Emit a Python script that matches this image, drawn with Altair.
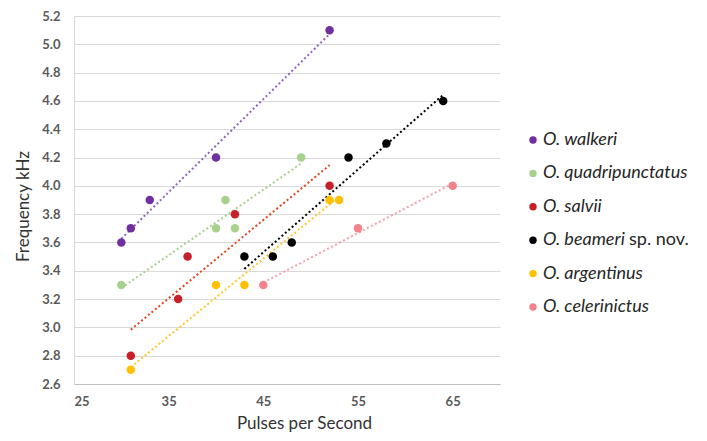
import altair as alt
import pandas as pd

species = ["O. walkeri", "O. quadripunctatus", "O. salvii",
           "O. beameri", "O. argentinus", "O. celerinictus"]
legend_suffix = ["", "", "", "sp. nov.", "", ""]
marker_colors = ["#7030A0", "#A9D18E", "#C8202A", "#000000", "#FFC000", "#F4828C"]
line_colors = ["#9563C4", "#A9D18E", "#E4431E", "#000000", "#FFC82E", "#F4A0A8"]

walkeri_x = [30, 31, 33, 40, 52]
walkeri_y = [3.6, 3.7, 3.9, 4.2, 5.1]
quadri_x = [30, 40, 41, 42, 49]
quadri_y = [3.3, 3.7, 3.9, 3.7, 4.2]
salvii_x = [31, 36, 37, 42, 52]
salvii_y = [2.8, 3.2, 3.5, 3.8, 4.0]
beameri_x = [43, 46, 48, 54, 58, 64]
beameri_y = [3.5, 3.5, 3.6, 4.2, 4.3, 4.6]
argent_x = [31, 40, 43, 52, 53]
argent_y = [2.7, 3.3, 3.3, 3.9, 3.9]
celer_x = [45, 55, 65]
celer_y = [3.3, 3.7, 4.0]

x_ticks = [25, 35, 45, 55, 65]
y_ticks = [2.6, 2.8, 3.0, 3.2, 3.4, 3.6, 3.8, 4.0, 4.2, 4.4, 4.6, 4.8, 5.0, 5.2]

series = [(walkeri_x, walkeri_y), (quadri_x, quadri_y), (salvii_x, salvii_y),
          (beameri_x, beameri_y), (argent_x, argent_y), (celer_x, celer_y)]
rows = []
for name, (xs, ys) in zip(species, series):
    for a, b in zip(xs, ys):
        rows.append({"species": name, "pps": a, "freq": b})
df = pd.DataFrame(rows)

leg = pd.DataFrame({"species": species, "order": list(range(len(species))),
                    "suffix": legend_suffix})

FONT = "Lato"

xscale = alt.Scale(domain=[25, 70], nice=False, zero=False)
yscale = alt.Scale(domain=[2.6, 5.2], nice=False, zero=False)

x_axis = alt.Axis(values=x_ticks, title="Pulses per Second", grid=False,
                  ticks=False, domainColor="#BFBFBF", labelPadding=11,
                  titlePadding=7, titleX=230)
y_axis = alt.Axis(values=y_ticks, format=".1f", title="Frequency kHz",
                  ticks=False, gridColor="#D9D9D9", domainColor="#D9D9D9",
                  labelPadding=14, titlePadding=9, titleY=190)

base = alt.Chart(df)

trend = base.transform_regression(
    "pps", "freq", groupby=["species"]
).mark_line(strokeWidth=2, strokeDash=[2, 2.5]).encode(
    x=alt.X("pps:Q", scale=xscale, axis=x_axis),
    y=alt.Y("freq:Q", scale=yscale, axis=y_axis),
    color=alt.Color("species:N", scale=alt.Scale(domain=species, range=line_colors), legend=None),
    detail="species:N",
)

points = base.mark_circle(size=72, opacity=1).encode(
    x=alt.X("pps:Q", scale=xscale, axis=x_axis),
    y=alt.Y("freq:Q", scale=yscale, axis=y_axis),
    color=alt.Color("species:N", scale=alt.Scale(domain=species, range=marker_colors), legend=None),
)

main = alt.layer(trend, points).resolve_scale(color="independent")

leg_y = alt.Y("order:O", scale=alt.Scale(type="point", range=[124, 291], padding=0), axis=None)

leg_pts = alt.Chart(leg).mark_circle(size=55, opacity=1).encode(
    x=alt.value(459),
    y=leg_y,
    color=alt.Color("species:N", scale=alt.Scale(domain=species, range=marker_colors), legend=None),
)

leg_txt = alt.Chart(leg).mark_text(align="left", baseline="middle", font=FONT,
                                   fontSize=18, fontStyle="italic", color="#262626").encode(
    x=alt.value(469),
    y=leg_y,
    text="species:N",
)

leg_suf = alt.Chart(leg).mark_text(align="left", baseline="middle", font=FONT,
                                   fontSize=18, color="#262626", dx=86).encode(
    x=alt.value(469),
    y=leg_y,
    text="suffix:N",
)

legend = alt.layer(leg_pts, leg_txt, leg_suf)

chart = alt.layer(main, legend).resolve_scale(
    y="independent", color="independent"
).properties(
    width=426, height=368,
    autosize=alt.AutoSizeParams(type="none"),
    padding={"left": 66, "top": 8, "right": 199, "bottom": 48},
).configure_view(stroke=None).configure_axis(
    labelFont=FONT, labelFontSize=13, labelFontWeight="bold", labelColor="#595959",
    titleFont=FONT, titleFontSize=17, titleFontWeight="normal", titleColor="#333333",
)

chart.save("out.html", embed_options={"renderer": "svg", "actions": False})
